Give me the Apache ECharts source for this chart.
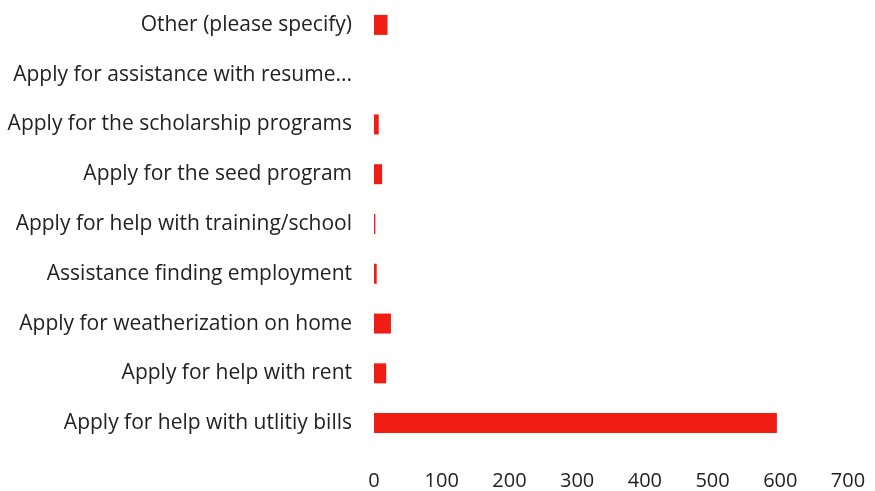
<!DOCTYPE html>
<html>
<head>
<meta charset="utf-8">
<script src="https://cdn.jsdelivr.net/npm/echarts@6/dist/echarts.min.js"></script>
<style>
  html, body { margin: 0; padding: 0; background: #ffffff; }
  #chart { width: 875px; height: 491px; }
</style>
</head>
<body>
<div id="chart"></div>
<script>
// Services requested, listed bottom to top
const categories = [
  'Apply for help with utlitiy bills',
  'Apply for help with rent',
  'Apply for weatherization on home',
  'Assistance finding employment',
  'Apply for help with training/school',
  'Apply for the seed program',
  'Apply for the scholarship programs',
  'Apply for assistance with resume...',
  'Other (please specify)'
];
const responses = [595, 18, 25, 4, 2, 12, 7, 0, 20];
const xTicks = [0, 100, 200, 300, 400, 500, 600, 700];

const chart = echarts.init(document.getElementById('chart'));
chart.setOption({
  animation: false,
  backgroundColor: '#ffffff',
  textStyle: { fontFamily: 'Open Sans' },
  grid: { left: 374, right: 27, top: -3, bottom: 43, containLabel: false },
  xAxis: {
    type: 'value',
    min: xTicks[0],
    max: xTicks[xTicks.length - 1],
    interval: 100,
    axisLine: { show: false },
    axisTick: { show: false },
    splitLine: { show: false },
    axisLabel: { color: '#222222', fontSize: 20, margin: 23 }
  },
  yAxis: {
    type: 'category',
    data: categories,
    axisLine: { show: false },
    axisTick: { show: false },
    axisLabel: { color: '#222222', fontSize: 21, margin: 22 }
  },
  series: [{
    type: 'bar',
    data: responses,
    barWidth: 20,
    itemStyle: { color: '#ef1d14' }
  }]
});
</script>
</body>
</html>
